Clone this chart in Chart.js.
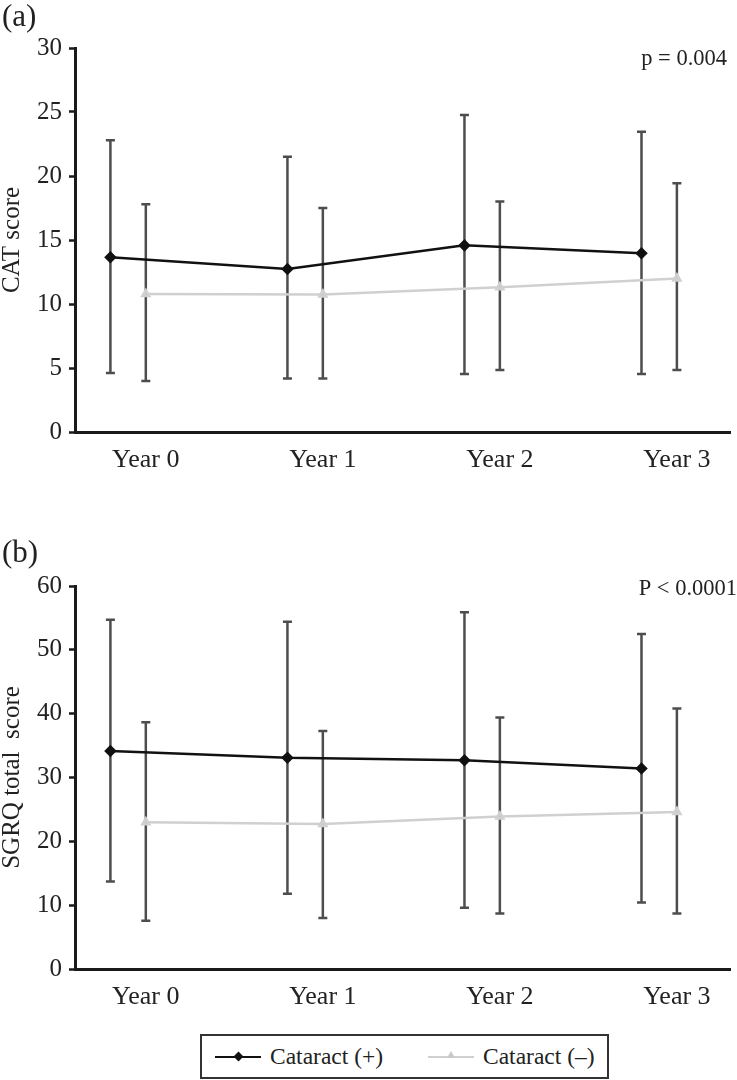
<!DOCTYPE html>
<html>
<head>
<meta charset="utf-8">
<script src="https://cdn.jsdelivr.net/npm/chart.js@4"></script>
<style>
  body { margin: 0; background: #fff; width: 737px; height: 1080px; position: relative; overflow: hidden; }
  .box { position: absolute; left: 0; width: 737px; }
  #legend {
    position: absolute; left: 200px; top: 1034px; width: 405px; height: 41px;
    border: 2px solid #333; font-family: 'Liberation Serif', 'Times New Roman', serif;
    font-size: 23.5px; color: #222;
  }
  #legend .ln { position: absolute; top: 20px; height: 2px; width: 46px; }
  #legend .txt { position: absolute; top: 0; height: 41px; line-height: 41px; white-space: nowrap; }
</style>
</head>
<body>
<div class="box" style="top:0;height:480px"><canvas id="chartA"></canvas></div>
<div class="box" style="top:538px;height:480px"><canvas id="chartB"></canvas></div>
<div id="legend">
  <div class="ln" style="left:13px;background:#111"></div>
  <div style="position:absolute;left:33px;top:17px;width:7px;height:7px;background:#111;transform:rotate(45deg)"></div>
  <div class="txt" style="left:68px">Cataract (+)</div>
  <div class="ln" style="left:226px;background:#d0d0d0"></div>
  <div style="position:absolute;left:245px;top:15px;width:0;height:0;border-left:4px solid transparent;border-right:4px solid transparent;border-bottom:7px solid #c8c8c8"></div>
  <div class="txt" style="left:281px">Cataract (–)</div>
</div>
<script>
const years = ['Year 0', 'Year 1', 'Year 2', 'Year 3'];

// (a) CAT score
const catPlusA = [13.65, 12.73, 14.58, 13.96];
const catPlusHiA = [22.8, 21.5, 24.77, 23.46];
const catPlusLoA = [4.6, 4.17, 4.53, 4.53];
const catMinusA = [10.78, 10.75, 11.3, 12.0];
const catMinusHiA = [17.8, 17.5, 18.0, 19.43];
const catMinusLoA = [3.98, 4.17, 4.84, 4.84];

// (b) SGRQ total score
const catPlusB = [34.15, 33.1, 32.7, 31.4];
const catPlusHiB = [54.7, 54.4, 55.9, 52.5];
const catPlusLoB = [13.7, 11.8, 9.6, 10.4];
const catMinusB = [22.98, 22.7, 23.9, 24.6];
const catMinusHiB = [38.65, 37.3, 39.4, 40.8];
const catMinusLoB = [7.57, 8.0, 8.7, 8.7];

const SERIF = "'Liberation Serif', 'Times New Roman', serif";
Chart.defaults.font.family = SERIF;
Chart.defaults.color = '#222';

const DODGE = 0.2;

// error bars drawn under the lines
const errorBars = {
  id: 'errorBars',
  beforeDatasetsDraw(chart) {
    const ctx = chart.ctx;
    const xs = chart.scales.x, ys = chart.scales.y;
    ctx.save();
    ctx.strokeStyle = '#4d4d4d';
    ctx.lineWidth = 2.5;
    chart.data.datasets.forEach(ds => {
      ds.data.forEach((p, i) => {
        const x = xs.getPixelForValue(p.x);
        const top = ys.getPixelForValue(ds.hi[i]);
        const bot = ys.getPixelForValue(ds.lo[i]);
        ctx.beginPath();
        ctx.moveTo(x, top); ctx.lineTo(x, bot);
        ctx.moveTo(x - 4.5, top); ctx.lineTo(x + 4.5, top);
        ctx.moveTo(x - 4.5, bot); ctx.lineTo(x + 4.5, bot);
        ctx.stroke();
      });
    });
    ctx.restore();
  }
};

const notes = {
  id: 'notes',
  afterDraw(chart, args, opts) {
    const ctx = chart.ctx;
    ctx.save();
    ctx.fillStyle = '#222';
    ctx.textBaseline = 'alphabetic';
    ctx.font = '31px ' + SERIF;
    ctx.textAlign = 'left';
    ctx.fillText(opts.panel, 2, opts.panelY);
    ctx.font = '22.5px ' + SERIF;
    ctx.textAlign = 'right';
    ctx.fillText(opts.p, opts.pX, opts.pY);
    ctx.restore();
  }
};

function makeChart(id, plus, plusHi, plusLo, minus, minusHi, minusLo, yMax, yStep, yTitle, note, xHeight) {
  return new Chart(document.getElementById(id), {
    type: 'line',
    data: {
      datasets: [
        {
          label: 'Cataract (+)',
          data: plus.map((v, i) => ({ x: i - DODGE, y: v })),
          hi: plusHi, lo: plusLo,
          borderColor: '#111', backgroundColor: '#111',
          borderWidth: 2.5, pointStyle: 'rectRot', pointRadius: 4.5,
          tension: 0
        },
        {
          label: 'Cataract (–)',
          data: minus.map((v, i) => ({ x: i, y: v })),
          hi: minusHi, lo: minusLo,
          borderColor: '#d0d0d0', backgroundColor: '#c8c8c8',
          borderWidth: 2.5, pointStyle: 'triangle', pointRadius: 4,
          tension: 0
        }
      ]
    },
    options: {
      responsive: true,
      maintainAspectRatio: false,
      animation: false,
      layout: { padding: { top: 48, right: 4, left: 0, bottom: 0 } },
      plugins: { legend: { display: false }, tooltip: { enabled: false }, notes: note },
      scales: {
        x: {
          type: 'linear', min: -0.4, max: 3.3,
          afterBuildTicks: s => { s.ticks = years.map((_, i) => ({ value: i })); },
          afterFit: s => { s.height = xHeight; },
          grid: { display: false, drawTicks: false },
          border: { display: true, color: '#1a1a1a', width: 3 },
          ticks: { callback: v => years[v], font: { size: 26 }, padding: 13, maxRotation: 0 }
        },
        y: {
          min: 0, max: yMax,
          afterFit: s => { s.width = 75; },
          grid: { drawOnChartArea: false, drawTicks: true, tickLength: 6, color: '#1a1a1a', tickWidth: 2.5 },
          border: { display: true, color: '#1a1a1a', width: 3 },
          ticks: { stepSize: yStep, font: { size: 25 }, padding: 7 },
          title: { display: true, text: yTitle, font: { size: 25 }, padding: { top: -3, bottom: 0 } }
        }
      }
    },
    plugins: [errorBars, notes]
  });
}

makeChart('chartA', catPlusA, catPlusHiA, catPlusLoA, catMinusA, catMinusHiA, catMinusLoA,
  30, 5, 'CAT score', { panel: '(a)', panelY: 26, p: 'p = 0.004', pX: 727, pY: 65 }, 48);
makeChart('chartB', catPlusB, catPlusHiB, catPlusLoB, catMinusB, catMinusHiB, catMinusLoB,
  60, 10, 'SGRQ total  score', { panel: '(b)', panelY: 24, p: 'P < 0.0001', pX: 737, pY: 57 }, 49);
</script>
</body>
</html>
